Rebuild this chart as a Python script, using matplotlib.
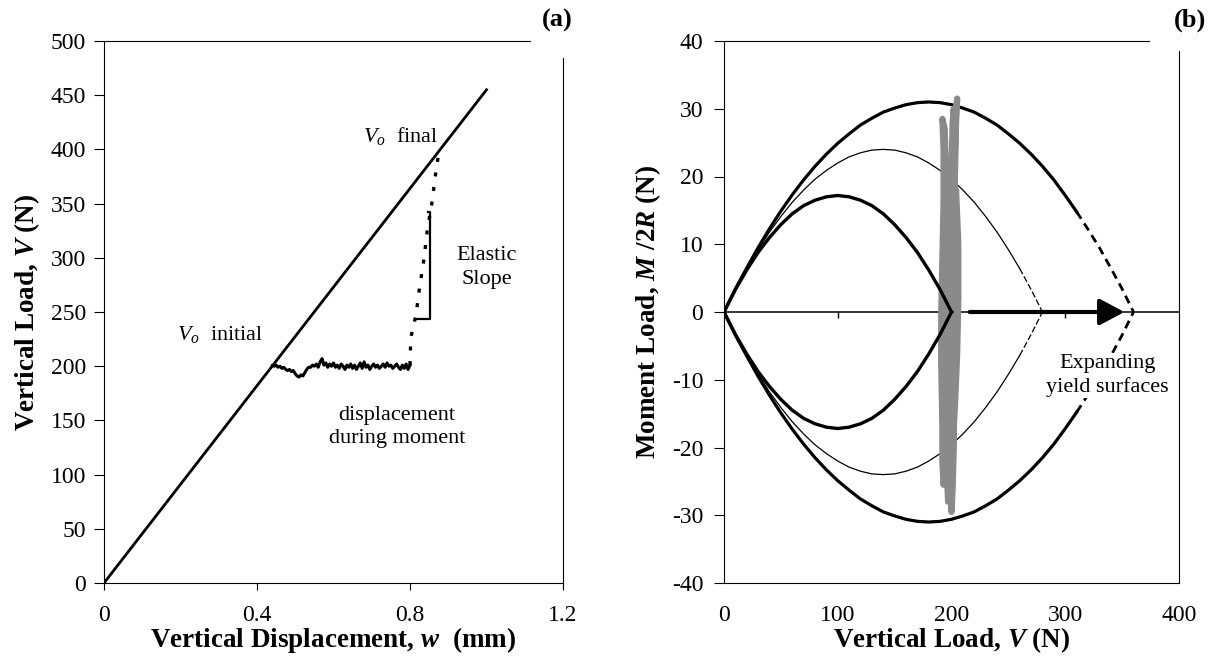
import matplotlib
matplotlib.use('Agg')
import matplotlib.pyplot as plt

plt.rcParams['font.family'] = ['Liberation Serif', 'DejaVu Serif']
plt.rcParams['mathtext.fontset'] = 'custom'
plt.rcParams['mathtext.rm'] = 'Liberation Serif'
plt.rcParams['mathtext.it'] = 'Liberation Serif:italic'
plt.rcParams['mathtext.bf'] = 'Liberation Serif:bold'
plt.rcParams['mathtext.bfit'] = 'Liberation Serif:italic:bold'
plt.rcParams['axes.unicode_minus'] = False

# ---- panel (a): load vs displacement ----
w_line = [0.0, 1.0]
V_line = [0.0, 455.0]

w_hold = [0.440, 0.445, 0.450, 0.455, 0.460, 0.465, 0.470, 0.475, 0.480, 0.485,
          0.490, 0.495, 0.500, 0.505, 0.510, 0.515, 0.520, 0.525, 0.530, 0.535,
          0.540, 0.545, 0.550, 0.555, 0.560, 0.565, 0.570, 0.575, 0.580, 0.585,
          0.590, 0.595, 0.600, 0.605, 0.610, 0.615, 0.620, 0.625, 0.630, 0.635,
          0.640, 0.645, 0.650, 0.655, 0.660, 0.665, 0.670, 0.675, 0.680, 0.685,
          0.690, 0.695, 0.700, 0.705, 0.710, 0.715, 0.720, 0.725, 0.730, 0.735,
          0.740, 0.745, 0.750, 0.755, 0.760, 0.765, 0.770, 0.775, 0.780, 0.785,
          0.790, 0.795, 0.800]
V_hold = [200.5, 200, 201, 199, 200, 198, 199, 197, 196, 197,
          195, 196, 193, 191, 190, 192, 191, 194, 197, 199,
          199, 201, 200, 202, 199, 204, 207, 201, 203, 199,
          202, 200, 203, 199, 201, 198, 202, 200, 197, 201,
          199, 202, 198, 201, 197, 200, 203, 198, 204, 199,
          201, 197, 200, 202, 199, 201, 198, 200, 202, 199,
          203, 200, 201, 198, 200, 202, 199, 197, 201, 198,
          202, 197, 201]

w_reload = [0.800, 0.802, 0.816, 0.824, 0.837, 0.845, 0.857, 0.866, 0.876]
V_reload = [201, 226, 248, 270, 300, 325, 350, 375, 399]

bracket_w = [0.812, 0.852, 0.852, 0.846]
bracket_V = [244, 244, 342, 342]

# ---- panel (b): yield surfaces in V-M/2R space ----
V_outer = [0, 10, 20, 30, 40, 50, 60, 70, 80, 90, 100, 110, 120, 130, 140, 150, 160, 170, 180,
           190, 200, 210, 220, 230, 240, 250, 260, 270, 280, 290, 300, 310]
M_outer = [0, 3.4, 6.5, 9.5, 12.3, 14.9, 17.3, 19.5, 21.5, 23.3, 24.9, 26.3, 27.6, 28.6, 29.5, 30.1, 30.6, 30.9, 31.0,
           30.9, 30.6, 30.1, 29.5, 28.6, 27.6, 26.3, 24.9, 23.3, 21.5, 19.5, 17.2, 14.8]
V_outer_end = [310, 320, 330, 340, 350, 360]
M_outer_end = [14.8, 12.2, 9.5, 6.5, 3.4, 0]

V_mid = [0, 10, 20, 30, 40, 50, 60, 70, 80, 90, 100, 110, 120, 130, 140,
         150, 160, 170, 180, 190, 200, 210, 220, 230, 240, 250, 260]
M_mid = [0, 3.3, 6.4, 9.2, 11.8, 14.1, 16.2, 18.0, 19.6, 20.9, 22.0, 22.9, 23.5, 23.9, 24.0,
         23.9, 23.5, 22.9, 22.0, 20.9, 19.6, 18.0, 16.2, 14.1, 11.8, 9.2, 6.4]
V_mid_end = [260, 270, 280]
M_mid_end = [6.4, 3.3, 0]

V_inner = [0, 10, 20, 30, 40, 50, 60, 70, 80, 90, 100,
           110, 120, 130, 140, 150, 160, 170, 180, 190, 200]
M_inner = [0, 3.3, 6.2, 8.8, 11.0, 12.9, 14.5, 15.7, 16.5, 17.0, 17.2,
           17.0, 16.5, 15.7, 14.5, 12.9, 11.0, 8.8, 6.2, 3.3, 0]

M_outer_low = [-m for m in M_outer]
M_outer_end_low = [-m for m in M_outer_end]
M_mid_low = [-m for m in M_mid]
M_mid_end_low = [-m for m in M_mid_end]
M_inner_low = [-m for m in M_inner]

# moment test trace (grey band near V = 200 N)
V_test = [200, 201, 202, 203, 204, 205, 204, 203, 203, 202, 201, 202, 202, 201, 200,
          199, 198, 197, 196, 196, 195, 195, 194, 192, 193, 193, 192, 191, 191, 192,
          192, 193, 194, 196, 198, 200, 202, 204, 206, 206, 205, 203, 201, 199, 198,
          198, 199, 199, 200, 201, 202, 201, 200, 199, 197, 195, 195, 196, 197, 198,
          199, 200, 200]
M_test = [0, 8, 16, 24, 30, 31.5, 28, 20, 12, 4, -4, -12, -20, -26, -29.5,
          -26, -18, -10, -2, 6, 14, 22, 27, 28.5, 24, 16, 8, 0, -8, -17,
          -22, -25.5, -20, -12, -4, 4, 12, 18, 10, 2, -6, -14, -20, -24, -20,
          -10, 0, 10, 20, 28, 30, 22, 14, 6, -2, -10, -18, -24, -28, -24,
          -16, -8, 0]

a_xticks = [0, 0.4, 0.8, 1.2]
a_yticks = [0, 50, 100, 150, 200, 250, 300, 350, 400, 450, 500]
b_xticks = [0, 100, 200, 300, 400]
b_yticks = [-40, -30, -20, -10, 0, 10, 20, 30, 40]

W, H = 1212, 656
fig = plt.figure(figsize=(W / 100, H / 100), dpi=100)
ax1 = fig.add_axes([104 / W, 1 - 583 / H, (563 - 104) / W, 542 / H])
ax2 = fig.add_axes([724 / W, 1 - 583 / H, (1179 - 724) / W, 542 / H])

tick_fs = 17
lab_fs = 19.5
txt_fs = 16

# ---- (a)
ax1.plot(w_line, V_line, color='black', lw=2.0)
ax1.plot(w_hold, V_hold, color='black', lw=2.2)
ax1.plot(w_reload, V_reload, color='black', lw=2.4, ls=(0, (1.2, 3.2)))
ax1.plot(bracket_w, bracket_V, color='black', lw=1.6)
ax1.set_xlim(0, 1.2)
ax1.set_ylim(0, 500)
ax1.set_xticks(a_xticks)
ax1.set_xticklabels(['0', '0.4', '0.8', '1.2'])
ax1.set_yticks(a_yticks)
ax1.tick_params(axis='x', direction='out', length=5, pad=11, labelsize=tick_fs)
ax1.tick_params(axis='y', direction='out', length=7, pad=6, labelsize=tick_fs)
ax1.spines['top'].set_bounds(0, 1.114)
ax1.spines['right'].set_bounds(0, 484)
ax1.set_xlabel(r'Vertical Displacement, $\mathbfit{w}$  (mm)', fontsize=lab_fs,
               fontweight='bold', labelpad=-1)
ax1.set_ylabel(r'Vertical Load, $\mathbfit{V}$ (N)', fontsize=lab_fs,
               fontweight='bold', labelpad=6)
ax1.text(0.775, 412, r'$V_o$  final', fontsize=txt_fs, ha='center', va='center')
ax1.text(0.305, 229, r'$V_o$  initial', fontsize=txt_fs, ha='center', va='center')
ax1.text(0.766, 144, 'displacement\nduring moment', fontsize=txt_fs,
         ha='center', va='center', linespacing=1.25)
ax1.text(1.0, 291, 'Elastic\nSlope', fontsize=txt_fs, ha='center', va='center',
         linespacing=1.3)

# ---- (b)
ax2.axhline(0, color='black', lw=1.1, zorder=1)
ax2.plot(V_outer, M_outer, color='black', lw=2.3, zorder=1.5)
ax2.plot(V_outer_end, M_outer_end, color='black', lw=2.0, ls=(0, (3, 2)), zorder=1.5)
ax2.plot(V_outer, M_outer_low, color='black', lw=2.3, zorder=1.5)
ax2.plot(V_outer_end, M_outer_end_low, color='black', lw=2.0, ls=(0, (3, 2)), zorder=1.5)
ax2.plot(V_mid, M_mid, color='black', lw=0.9, zorder=1.5)
ax2.plot(V_mid_end, M_mid_end, color='black', lw=0.9, ls=(0, (5, 2)), zorder=1.5)
ax2.plot(V_mid, M_mid_low, color='black', lw=0.9, zorder=1.5)
ax2.plot(V_mid_end, M_mid_end_low, color='black', lw=0.9, ls=(0, (5, 2)), zorder=1.5)
ax2.plot(V_test, M_test, color='#8a8a8a', lw=4.5, zorder=2, solid_joinstyle='round')
ax2.plot(V_inner, M_inner, color='black', lw=2.4, zorder=3)
ax2.plot(V_inner, M_inner_low, color='black', lw=2.4, zorder=3)
ax2.annotate('', xy=(352, 0), xytext=(216, 0), zorder=4,
             arrowprops=dict(arrowstyle='-|>,head_length=0.75,head_width=0.4',
                             lw=3, color='black', mutation_scale=20,
                             shrinkA=0, shrinkB=0))
ax2.text(337, -9.4, 'Expanding\nyield surfaces', fontsize=txt_fs, ha='center',
         va='center', linespacing=1.25, zorder=5,
         bbox=dict(facecolor='white', edgecolor='none', pad=1))
ax2.set_xlim(0, 400)
ax2.set_ylim(-40, 40)
ax2.set_xticks(b_xticks)
ax2.set_yticks(b_yticks)
ax2.tick_params(axis='x', length=0, pad=16, labelsize=tick_fs)
ax2.tick_params(axis='y', direction='out', length=7, pad=8, labelsize=tick_fs)
ax2.vlines(b_xticks[1:-1], -0.9, 0, color='black', lw=1, zorder=1)
ax2.spines['top'].set_bounds(0, 374)
ax2.spines['right'].set_bounds(-40, 38.5)
ax2.set_xlabel(r'Vertical Load, $\mathbfit{V}$ (N)', fontsize=lab_fs,
               fontweight='bold', labelpad=-1)
ax2.set_ylabel(r'Moment Load, $\mathbfit{M}$ /2$\mathbfit{R}$ (N)', fontsize=lab_fs,
               fontweight='bold', labelpad=6)

fig.text(557 / W, 1 - 20 / H, '(a)', fontsize=19, fontweight='bold', ha='center', va='center')
fig.text(1190 / W, 1 - 20 / H, '(b)', fontsize=19, fontweight='bold', ha='center', va='center')

fig.savefig('out.png', dpi=100, facecolor='white')
